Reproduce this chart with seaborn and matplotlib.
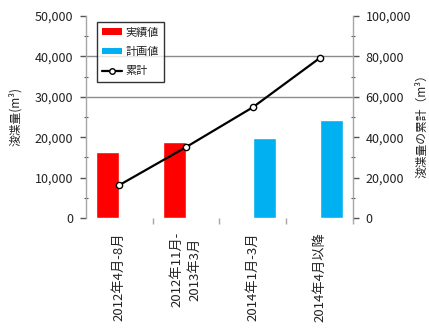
import numpy as np
import pandas as pd
import matplotlib
matplotlib.use("Agg")
import matplotlib.pyplot as plt
from matplotlib.patches import Patch
from matplotlib.lines import Line2D
from matplotlib.ticker import FuncFormatter, MultipleLocator
import seaborn as sns

sns.set_theme(style="white")
plt.rcParams["font.family"] = ["Noto Sans CJK JP", "DejaVu Sans"]

# Periods on the x axis
periods = ["2012年4月-8月", "2012年11月-\n2013年3月", "2014年1月-3月", "2014年4月以降"]
# Dredged volume per period (m³)
actual_periods = ["2012年4月-8月", "2012年11月-\n2013年3月"]
actual_values = [16300, 18800]
plan_periods = ["2014年1月-3月", "2014年4月以降"]
plan_values = [19700, 24300]
# Running total (m³)
cumulative_values = [16300, 35100, 54800, 79100]

series_names = ["実績値", "計画値", "累計"]
colors = {"実績値": "#ff0000", "計画値": "#00b0f0"}

bars = pd.DataFrame({
    "period": actual_periods + plan_periods,
    "volume": actual_values + plan_values,
    "series": [series_names[0]] * len(actual_values) + [series_names[1]] * len(plan_values),
})
line = pd.DataFrame({"period": periods, "total": cumulative_values})

fig = plt.figure(figsize=(4.29, 3.30), dpi=100)
ax = fig.add_axes([0.200, 0.339, 0.623, 0.613])

sns.barplot(data=bars, x="period", y="volume", hue="series", order=periods,
            hue_order=series_names[:2], palette=colors, width=0.7, gap=0,
            dodge=True, saturation=1, legend=False, ax=ax, zorder=2)

axis_gray = "#a6a6a6"
text_color = "#222222"

for level in (30000, 40000):
    ax.axhline(level, color="#8c8c8c", lw=1.0, zorder=1)

ax.set_ylim(0, 50000)
ax.set_xlim(-0.5, 3.5)
ax.yaxis.set_major_locator(MultipleLocator(10000))
ax.yaxis.set_minor_locator(MultipleLocator(5000))
ax.yaxis.set_major_formatter(FuncFormatter(lambda v, p: f"{int(v):,}"))
ax.set_xlabel("")
ax.set_ylabel("浚渫量(m³)", fontsize=8.5, color=text_color)
ax.yaxis.set_label_coords(-0.24, 0.5)

ax2 = ax.twinx()
sns.pointplot(data=line, x="period", y="total", order=periods, color="black",
              markers="o", linestyles="-", ax=ax2,
              markerfacecolor="white", markeredgecolor="black",
              markersize=4.5, markeredgewidth=1.0, linewidth=1.6)
ax2.set_ylim(0, 100000)
ax2.set_xlim(-0.5, 3.5)
ax2.yaxis.set_major_locator(MultipleLocator(20000))
ax2.yaxis.set_minor_locator(MultipleLocator(10000))
ax2.yaxis.set_major_formatter(FuncFormatter(lambda v, p: f"{int(v):,}"))
ax2.set_ylabel("浚渫量の累計（m³）", fontsize=8.5, color=text_color)
ax2.yaxis.set_label_coords(1.235, 0.47)
ax2.set_xlabel("")

for a in (ax, ax2):
    for side in ("top", "bottom"):
        a.spines[side].set_visible(False)
    a.spines["left"].set_visible(a is ax)
    a.spines["right"].set_visible(a is ax2)
    a.spines["left"].set_color(axis_gray)
    a.spines["right"].set_color(axis_gray)
    a.spines["left"].set_linewidth(1.0)
    a.spines["right"].set_linewidth(1.0)
    a.tick_params(axis="y", which="major", length=4, width=1, color="#555555",
                  labelsize=9, labelcolor=text_color, pad=5)
    a.tick_params(axis="y", which="minor", length=3, width=0.8, color="#555555",
                  direction="inout", left=(a is ax), right=(a is ax2))

ax2.tick_params(axis="y", left=False, right=True)
ax.tick_params(axis="y", left=True, right=False)

ax.set_xticks(range(len(periods)))
ax.set_xticklabels(periods, rotation=90, fontsize=9.5, color=text_color,
                   va="top", ha="center", linespacing=1.45)
ax.tick_params(axis="x", which="major", length=0, pad=10)
ax.set_xticks([0.5, 1.5, 2.5, 3.5], minor=True)
ax.tick_params(axis="x", which="minor", length=4, width=1, color=axis_gray, bottom=True)
ax2.tick_params(axis="x", which="both", length=0, labelbottom=False, bottom=False)

handles = [
    Patch(facecolor=colors["実績値"], edgecolor="none", label=series_names[0]),
    Patch(facecolor=colors["計画値"], edgecolor="none", label=series_names[1]),
    Line2D([0], [0], color="black", lw=1.6, marker="o", markersize=4,
           markerfacecolor="white", markeredgecolor="black", label=series_names[2]),
]
leg = ax2.legend(handles=handles, loc="upper left", bbox_to_anchor=(0.041, 0.970),
                 borderaxespad=0, frameon=True, fancybox=False, fontsize=8,
                 handlelength=1.8, handleheight=0.55, labelspacing=0.85,
                 borderpad=0.5, handletextpad=0.25)
leg.get_frame().set_edgecolor("black")
leg.get_frame().set_linewidth(1.0)
for t in leg.get_texts():
    t.set_color(text_color)

fig.savefig("out.png", dpi=100, facecolor="white")
